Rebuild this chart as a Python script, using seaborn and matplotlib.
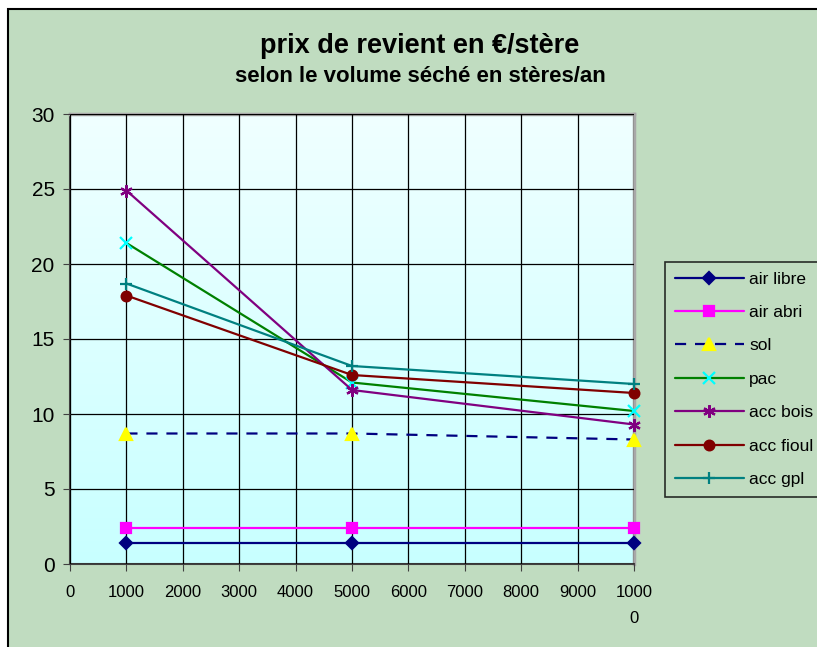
import numpy as np
import pandas as pd
import matplotlib
matplotlib.use("Agg")
import matplotlib.pyplot as plt
import seaborn as sns
from matplotlib.colors import LinearSegmentedColormap
from matplotlib.patches import Rectangle
from matplotlib.lines import Line2D

# data
volumes = [1000, 5000, 10000]
air_libre = [1.4, 1.4, 1.4]
air_abri = [2.4, 2.4, 2.4]
sol = [8.7, 8.7, 8.3]
pac = [21.4, 12.1, 10.2]
acc_bois = [24.9, 11.6, 9.3]
acc_fioul = [17.9, 12.6, 11.4]
acc_gpl = [18.7, 13.2, 12.0]

series_names = ["air libre", "air abri", "sol", "pac", "acc bois", "acc fioul", "acc gpl"]
series_values = [air_libre, air_abri, sol, pac, acc_bois, acc_fioul, acc_gpl]
x_labels = ["0", "1000", "2000", "3000", "4000", "5000", "6000", "7000", "8000", "9000", "1000\n0"]

# style per series: line colour, marker, marker colour, marker size, dashed
styles = {
    "air libre": ("#000080", "D", "#000080", 6.5, False),
    "air abri": ("#FF00FF", "s", "#FF00FF", 6.5, False),
    "sol": ("#000080", "^", "#FFFF00", 8, True),
    "pac": ("#008000", "x", "#00FFFF", 8, False),
    "acc bois": ("#800080", (6, 2, 0), "#800080", 9, False),
    "acc fioul": ("#800000", "o", "#800000", 7, False),
    "acc gpl": ("#008080", "+", "#008080", 9, False),
}

df = pd.DataFrame({
    "volume": np.tile(volumes, len(series_names)),
    "prix": np.concatenate(series_values),
    "serie": np.repeat(series_names, len(volumes)),
})

sns.set_style("white")
plt.rcParams["font.family"] = ["Liberation Sans", "DejaVu Sans"]
plt.rcParams["text.color"] = "black"
plt.rcParams["xtick.color"] = "black"
plt.rcParams["ytick.color"] = "black"

green = "#C0DCC0"
fig = plt.figure(figsize=(8.17, 6.47), dpi=100, facecolor="white")
fig.patches.append(Rectangle((8 / 817, -0.01), 1.0, 1 - 9 / 647 + 0.01, transform=fig.transFigure,
                             facecolor=green, edgecolor="black", linewidth=1.5, zorder=-10))

ax = fig.add_axes([70 / 817, 1 - 564 / 647, (634 - 70) / 817, (564 - 114) / 647])

# gradient plot area
cmap = LinearSegmentedColormap.from_list("bg", ["#C8FFFF", "#F0FFFF"])
grad = np.linspace(0, 1, 256).reshape(-1, 1)
ax.imshow(grad, extent=[0, 10000, 0, 30], aspect="auto", cmap=cmap, origin="lower", zorder=0)


def line_kw(name):
    lc, mk, mc, ms, dashed = styles[name]
    return dict(color=lc, linewidth=1.6, linestyle=(0, (5, 4)) if dashed else "-",
                marker=mk, markersize=ms, markerfacecolor=mc, markeredgecolor=mc,
                markeredgewidth=1.6)


for name in series_names:
    sub = df[df["serie"] == name]
    sns.lineplot(data=sub, x="volume", y="prix", ax=ax, legend=False, zorder=3,
                 clip_on=False, **line_kw(name))

ax.set_xlim(0, 10000)
ax.set_ylim(0, 30)
ax.set_xticks(range(0, 10001, 1000))
ax.set_xticklabels(x_labels, fontsize=12, linespacing=1.9, va="top")
ax.set_yticks(range(0, 31, 5))
ax.tick_params(axis="y", labelsize=15, length=5, direction="out", left=True, color="#404040", pad=6)
ax.tick_params(axis="x", length=5, direction="out", bottom=True, color="#404040", pad=10)
ax.set_xlabel("")
ax.set_ylabel("")
ax.grid(True, color="black", linewidth=0.9, zorder=1)
ax.set_axisbelow(False)
for sp in ["left", "bottom"]:
    ax.spines[sp].set_color("#404040")
    ax.spines[sp].set_linewidth(1.5)
for sp in ["top", "right"]:
    ax.spines[sp].set_color("#A8A8A8")
    ax.spines[sp].set_linewidth(2.5)

fig.text(420 / 817, 1 - 46 / 647, "prix de revient en €/stère", ha="center", va="center",
         fontsize=19.5, fontweight="bold")
fig.text(420 / 817, 1 - 76 / 647, "selon le volume séché en stères/an", ha="center", va="center",
         fontsize=16, fontweight="bold")

handles = [Line2D([], [], **line_kw(name)) for name in series_names]
leg = fig.legend(handles, series_names, loc="upper left", bbox_to_anchor=(665 / 817, 1 - 262 / 647),
                 frameon=True, fancybox=False, fontsize=12.5, handlelength=4.0, handletextpad=0.3,
                 labelspacing=1.05, borderpad=0.55, borderaxespad=0)
leg.get_frame().set_facecolor(green)
leg.get_frame().set_edgecolor("black")
leg.get_frame().set_linewidth(1.2)

fig.savefig("out.png", dpi=100, facecolor="white")
